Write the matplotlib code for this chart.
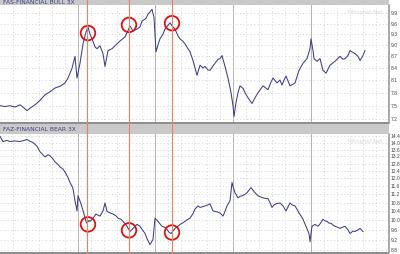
import numpy as np
import matplotlib
matplotlib.use("Agg")
import matplotlib.pyplot as plt
import matplotlib.transforms as mtrans
from matplotlib.patches import Rectangle
from matplotlib.lines import Line2D

# ---- data (x = bar index) ----
bull_x = [0, 5, 10, 15, 20, 24, 27, 31, 35, 40, 45, 50, 55, 60, 65, 68, 72, 75, 77, 80,
          83, 86, 88, 90, 92, 95, 97, 100, 103, 105, 108, 112, 115, 120, 125, 128, 130, 133,
          137, 140, 142, 146, 148, 152, 154, 156, 158, 160, 163, 165, 168, 170, 173, 175,
          178, 180, 183, 185, 188, 190, 193, 195, 197, 200, 203, 205, 208, 210, 213, 215,
          218, 220, 222, 225, 228, 231, 233, 234, 236, 238, 240, 243, 245, 248, 252, 255,
          258, 263, 268, 271, 273, 277, 280, 282, 284, 286, 290, 295, 299, 303, 307, 310,
          311, 313, 314, 317, 320, 323, 326, 330, 335, 340, 343, 345, 348, 350, 353, 355,
          358, 360, 363, 365]
bull_y = [7.50, 7.48, 7.50, 7.47, 7.52, 7.45, 7.39, 7.46, 7.52, 7.62, 7.75, 7.82, 7.91, 7.95,
          8.03, 8.15, 8.39, 8.70, 8.15, 8.52, 9.03, 9.36, 9.50, 9.30, 9.17, 8.95, 8.90, 8.98,
          8.77, 8.44, 8.85, 8.90, 8.98, 9.11, 9.22, 9.40, 9.53, 9.39, 9.44, 9.50, 9.67, 9.75,
          9.87, 10.02, 9.78, 8.82, 9.00, 9.17, 9.30, 9.44, 9.55, 9.62, 9.50, 9.44, 9.25, 9.17,
          9.10, 9.03, 8.90, 8.82, 8.59, 8.40, 8.22, 8.47, 8.40, 8.44, 8.35, 8.34, 8.45, 8.52,
          8.62, 8.64, 8.72, 8.44, 8.15, 7.80, 7.50, 7.26, 7.57, 7.80, 7.96, 7.90, 7.80, 7.68,
          7.55, 7.68, 7.80, 7.96, 7.87, 8.05, 8.15, 8.03, 8.10, 7.98, 8.10, 8.20, 7.96, 8.03,
          8.34, 8.52, 8.64, 8.90, 9.17, 8.85, 8.64, 8.57, 8.64, 8.34, 8.27, 8.47, 8.57, 8.70,
          8.62, 8.64, 8.72, 8.85, 8.80, 8.77, 8.70, 8.59, 8.72, 8.85]

bear_x = [0, 3, 7, 10, 15, 20, 24, 27, 30, 33, 37, 40, 43, 45, 48, 50, 53, 55, 58, 60, 63,
          65, 68, 70, 72, 73, 75, 77, 78, 81, 84, 86, 87, 89, 90, 93, 96, 100, 103, 105, 107,
          110, 113, 116, 118, 121, 123, 127, 130, 133, 137, 140, 142, 145, 147, 150, 153, 155,
          158, 160, 162, 165, 167, 169, 171, 173, 175, 178, 180, 183, 185, 188, 190, 193, 195,
          198, 200, 203, 205, 208, 210, 213, 217, 220, 223, 225, 227, 230, 232, 233, 235, 238,
          240, 242, 245, 247, 249, 251, 253, 255, 258, 260, 263, 266, 268, 270, 272, 274, 276,
          280, 283, 286, 288, 290, 292, 295, 297, 299, 301, 303, 306, 308, 309, 310, 312, 315,
          318, 320, 323, 325, 327, 329, 331, 333, 335, 338, 340, 343, 345, 348, 350, 353, 355,
          358, 360, 363]
bear_y = [14.40, 14.08, 14.15, 14.08, 14.12, 14.08, 14.15, 14.21, 14.10, 14.02, 13.80, 13.47,
          13.30, 13.18, 13.30, 13.24, 13.05, 12.89, 12.75, 12.61, 12.50, 12.33, 12.05, 11.79,
          11.60, 11.48, 10.89, 10.42, 11.13, 10.75, 10.28, 9.95, 9.88, 10.00, 9.96, 10.10,
          10.28, 10.19, 10.42, 10.79, 10.40, 10.33, 10.28, 10.20, 10.10, 10.05, 9.96, 9.75,
          9.53, 9.66, 9.83, 9.75, 9.62, 9.45, 9.24, 9.00, 9.21, 10.10, 9.96, 9.85, 9.75, 9.70,
          9.62, 9.50, 9.45, 9.55, 9.66, 9.75, 9.83, 9.90, 9.96, 10.05, 10.10, 10.30, 10.51,
          10.65, 10.58, 10.62, 10.65, 10.70, 10.75, 10.42, 10.38, 10.33, 10.19, 10.40, 10.65,
          10.89, 11.79, 11.60, 11.28, 11.03, 11.10, 11.13, 11.20, 11.28, 11.40, 11.53, 11.40,
          11.28, 11.13, 11.08, 11.03, 11.00, 10.99, 10.80, 10.58, 10.70, 10.75, 10.79, 10.65,
          10.42, 10.60, 10.79, 10.70, 10.65, 10.50, 10.33, 10.20, 10.05, 9.75, 9.55, 9.45,
          9.12, 9.75, 9.83, 9.75, 9.85, 10.05, 9.98, 9.96, 9.88, 9.88, 9.80, 9.75, 9.70, 9.66,
          9.72, 9.75, 9.60, 9.45, 9.55, 9.53, 9.60, 9.66, 9.53]

bull_ticks = [7.2, 7.5, 7.8, 8.1, 8.4, 8.7, 9.0, 9.3, 9.6, 9.9]
bear_ticks = [8.8, 9.2, 9.6, 10.0, 10.4, 10.8, 11.2, 11.6, 12.0, 12.4, 12.8, 13.2, 13.6,
              14.0, 14.4]

marked_bars = [87, 129, 172]
bull_circles = [9.33, 9.56, 9.61]
bear_circles = [9.83, 9.58, 9.49]
circle_bars = [88, 129, 172]

month_bars = [77.7, 155.3, 233.0, 310.7]

W, H = 400, 254
fig = plt.figure(figsize=(W / 100, H / 100), dpi=100)
fig.patch.set_facecolor("white")

line_col = "#3d3f86"
grid_col = "#d2d2d2"


def panel(top, bottom, xs, ys, ticks, ylim, circles):
    ax = fig.add_axes([0, 1 - bottom / H, 389 / W, (bottom - top) / H])
    ax.set_yscale("log")
    ax.set_xlim(0, 389)
    ax.set_ylim(*ylim)
    ax.set_facecolor("white")
    # weekly dashed grid, monthly solid
    step = month_bars[0] / 6
    for k in range(1, 31):
        xg = k * step
        if k % 6 == 0:
            ax.axvline(xg, color="#b4b4b4", lw=0.7, zorder=0)
        else:
            ax.axvline(xg, color=grid_col, lw=0.5, ls=(0, (2, 3)), zorder=0)
    for t in ticks:
        ax.axhline(t, color=grid_col, lw=0.5, ls=(0, (2, 3)), zorder=0)
    ax.plot(xs, ys, color=line_col, lw=0.75, zorder=3)
    ax.scatter(circle_bars, circles, s=110, facecolors="none", edgecolors="#dd1111",
               linewidths=1.3, zorder=5)
    ax.yaxis.tick_right()
    ax.set_yticks(ticks)
    ax.set_yticklabels(["%.1f" % t for t in ticks], family="Liberation Sans")
    ax.yaxis.set_minor_locator(plt.NullLocator())
    ax.tick_params(axis="y", length=0, pad=1.0, labelsize=3.6, labelcolor="#444444")
    ax.set_xticks([])
    for s in ["top", "left", "bottom"]:
        ax.spines[s].set_visible(False)
    ax.spines["right"].set_color("#999999")
    ax.spines["right"].set_linewidth(1.2)
    ax.text(0.985, 0.965, "©Prophet.Net", transform=ax.transAxes, ha="right", va="top",
            fontsize=3.8, color="#d8d8d8")
    return ax


ax1 = panel(5, 123, bull_x, bull_y, bull_ticks, (7.12, 10.15), bull_circles)
ax2 = panel(134, 252, bear_x, bear_y, bear_ticks, (8.72, 14.55), bear_circles)

# title bars and separators
fig.add_artist(Rectangle((0, 1 - 5 / H), 389 / W, 5 / H, transform=fig.transFigure,
                         facecolor="#c9c9c9", edgecolor="none", zorder=1))
fig.add_artist(Rectangle((0, 1 - 124 / H), 389 / W, 2 / H, transform=fig.transFigure,
                         facecolor="#8f8f8f", edgecolor="none", zorder=1))
fig.add_artist(Rectangle((0, 1 - 134 / H), 389 / W, 10 / H, transform=fig.transFigure,
                         facecolor="#c9c9c9", edgecolor="none", zorder=1))
fig.add_artist(Rectangle((0, 1 - 254 / H), 389 / W, 2 / H, transform=fig.transFigure,
                         facecolor="#8f8f8f", edgecolor="none", zorder=1))
fig.text(3 / W, 1 - 2.5 / H, "FAS-FINANCIAL BULL 3X", fontsize=4.3, color="#3d3f86",
         va="center", ha="left", zorder=2)
fig.text(3 / W, 1 - 129.5 / H, "FAZ-FINANCIAL BEAR 3X", fontsize=4.3, color="#3d3f86",
         va="center", ha="left", zorder=2)

# red marker lines across both panels
blend = mtrans.blended_transform_factory(ax1.transData, fig.transFigure)
for b in marked_bars:
    fig.add_artist(Line2D([b, b], [0, 1], transform=blend, color="#e8825f", lw=0.8,
                          zorder=4))

fig.savefig("out.png", dpi=100)
